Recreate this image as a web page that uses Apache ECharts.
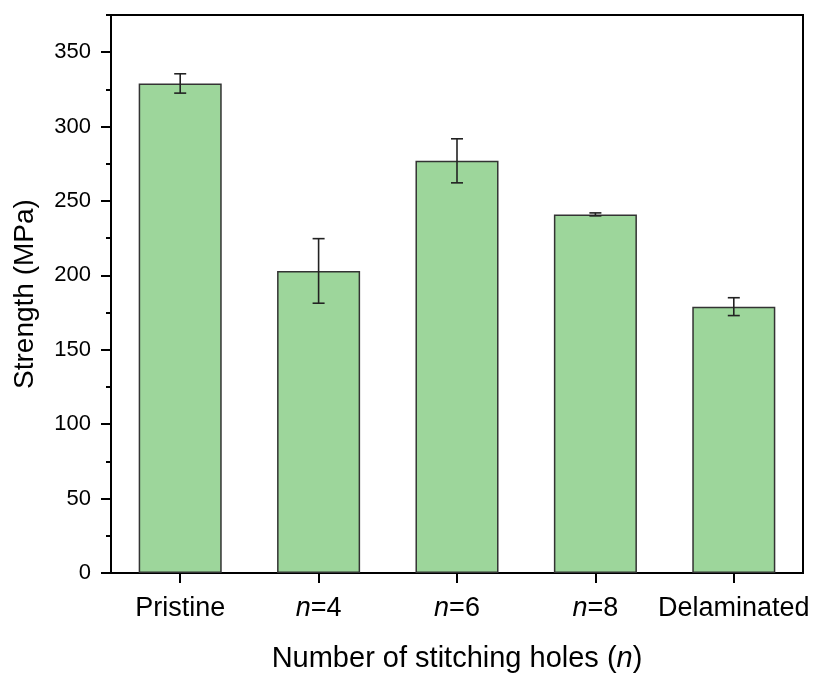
<!DOCTYPE html>
<html>
<head>
<meta charset="utf-8">
<script src="https://cdn.jsdelivr.net/npm/echarts@6/dist/echarts.min.js"></script>
<style>html,body{margin:0;padding:0;background:#fff}#c{width:815px;height:673px}</style>
</head>
<body>
<div id="c"></div>
<script>
const categories = ['Pristine', 'n=4', 'n=6', 'n=8', 'Delaminated'];
const strength = [329, 203, 277, 241, 179];
const errors = [6.5, 21.7, 14.8, 1, 6];
const yTicks = [0, 50, 100, 150, 200, 250, 300, 350];

const FONT = '"Liberation Sans", Arial, sans-serif';
const chart = echarts.init(document.getElementById('c'), null, {renderer: 'canvas'});

const errData = strength.map((v, i) => [i, v - errors[i], v + errors[i]]);

chart.setOption({
  animation: false,
  backgroundColor: '#fff',
  grid: {left: 111, top: 15, right: 12, bottom: 100, outerBoundsMode: 'none', containLabel: false,
    show: true, borderColor: '#000', borderWidth: 2, backgroundColor: 'transparent'},
  xAxis: {
    type: 'category',
    data: categories,
    boundaryGap: true,
    axisLine: {lineStyle: {color: '#000', width: 2}},
    axisTick: {show: true, alignWithLabel: true, interval: 0, length: 10, lineStyle: {color: '#000', width: 2}},
    axisLabel: {
      interval: 0,
      margin: 22, color: '#000', fontFamily: FONT, fontSize: 27,
      formatter: v => v.startsWith('n=') ? '{i|n}=' + v.slice(2) : v,
      rich: {i: {fontStyle: 'italic', fontFamily: FONT, fontSize: 27, color: '#000'}}
    },
    name: 'Number of stitching holes ({i|n})',
    nameLocation: 'middle',
    nameGap: 71,
    nameTextStyle: {color: '#000', fontFamily: FONT, fontSize: 29,
      rich: {i: {fontStyle: 'italic', fontFamily: FONT, fontSize: 29, color: '#000'}}}
  },
  yAxis: [
    {
      type: 'value',
      min: 0, max: 375, interval: 50,
      axisLine: {show: true, lineStyle: {color: '#000', width: 2}},
      axisTick: {show: true, length: 10, customValues: yTicks, lineStyle: {color: '#000', width: 2}},
      splitLine: {show: false},
      axisLabel: {margin: 20, color: '#000', fontFamily: FONT, fontSize: 22, customValues: yTicks},
      name: 'Strength (MPa)',
      nameLocation: 'middle',
      nameGap: 72,
      nameTextStyle: {color: '#000', fontFamily: FONT, fontSize: 28}
    },
    {
      type: 'value',
      position: 'left',
      min: 0, max: 375, interval: 25,
      axisLine: {show: false},
      axisTick: {show: true, length: 5, lineStyle: {color: '#000', width: 2}},
      axisLabel: {show: false},
      splitLine: {show: false}
    }
  ],
  series: [
    {
      type: 'bar',
      data: strength,
      barWidth: '60%',
      itemStyle: {color: '#9dd69b', borderColor: '#333', borderWidth: 1.5}
    },
    {
      type: 'custom',
      data: errData,
      z: 10,
      renderItem: function (params, api) {
        const x = api.value(0);
        const lo = api.coord([x, api.value(1)]);
        const hi = api.coord([x, api.value(2)]);
        const hw = 6;
        const style = {stroke: '#222', lineWidth: 1.6};
        return {
          type: 'group',
          children: [
            {type: 'line', shape: {x1: lo[0], y1: lo[1], x2: hi[0], y2: hi[1]}, style},
            {type: 'line', shape: {x1: hi[0] - hw, y1: hi[1], x2: hi[0] + hw, y2: hi[1]}, style},
            {type: 'line', shape: {x1: lo[0] - hw, y1: lo[1], x2: lo[0] + hw, y2: lo[1]}, style}
          ]
        };
      }
    }
  ]
});
</script>
</body>
</html>
